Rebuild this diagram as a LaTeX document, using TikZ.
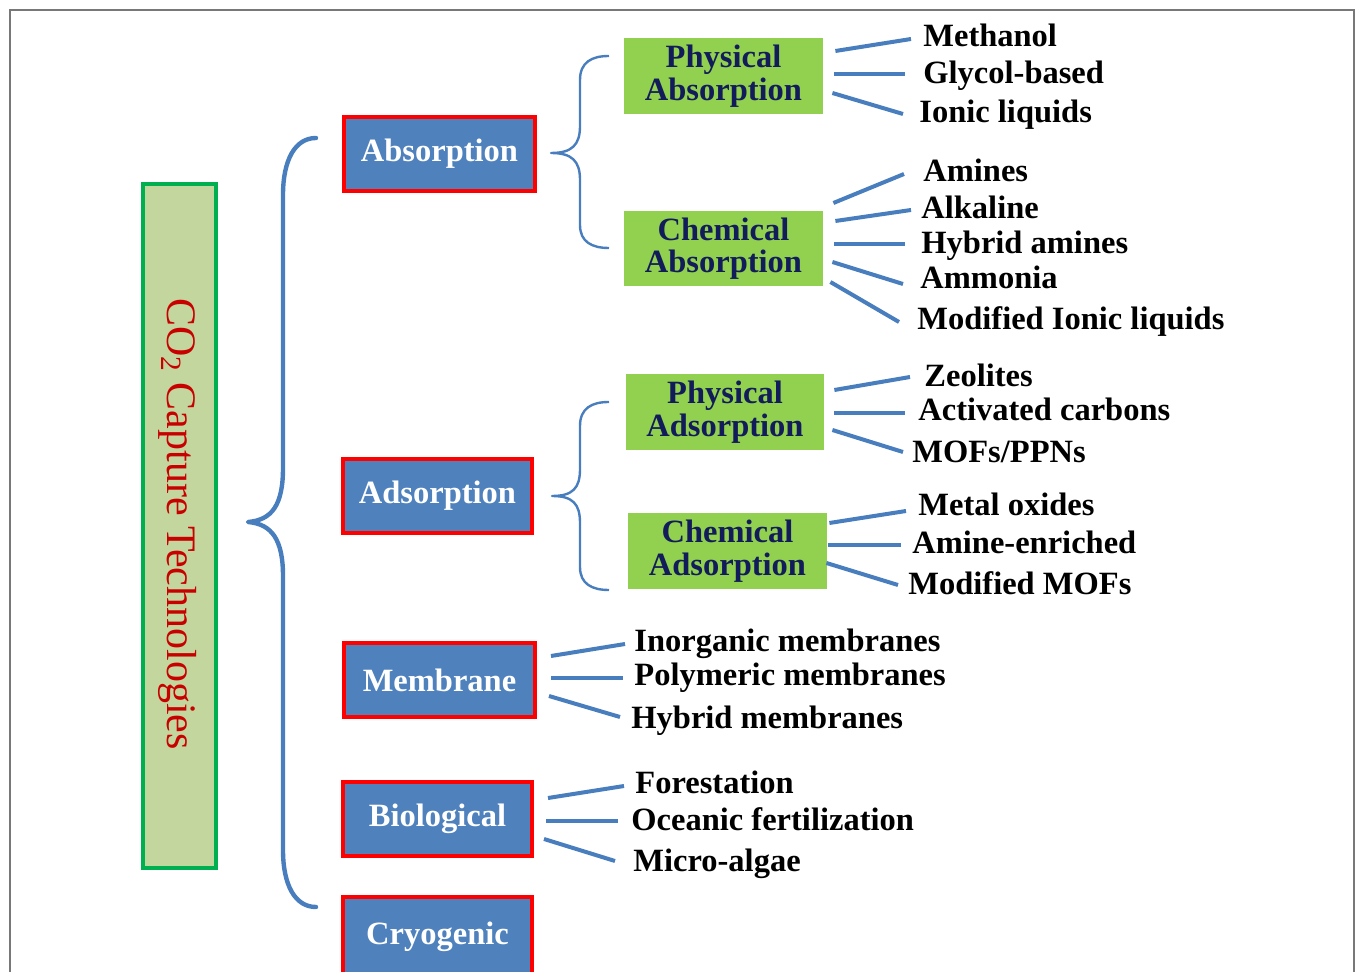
\documentclass[tikz,border=0pt]{standalone}
\usepackage{fontspec}
\setmainfont{Liberation Serif}
\definecolor{boxblue}{RGB}{79,129,189}
\definecolor{lineblue}{RGB}{72,126,189}
\definecolor{boxred}{RGB}{255,0,0}
\definecolor{subgreen}{RGB}{146,208,80}
\definecolor{titlefill}{RGB}{195,214,158}
\definecolor{titleborder}{RGB}{0,176,80}
\definecolor{navy}{RGB}{18,28,90}
\definecolor{titlered}{RGB}{200,0,0}
\definecolor{framegray}{RGB}{120,120,120}
\tikzset{
  catbox/.style={draw=boxred, line width=2pt, fill=boxblue, text=white,
    font=\fontsize{16.25}{16.25}\selectfont\bfseries, inner sep=0pt,
    minimum width=95pt, minimum height=37pt},
  subbox/.style={fill=subgreen, text=navy, align=center,
    font=\fontsize{16.25}{16.25}\selectfont\bfseries, inner sep=0pt,
    minimum width=99.5pt, minimum height=38pt},
  leaftext/.style={anchor=base west, inner sep=0pt,
    font=\fontsize{16.25}{16.25}\selectfont\bfseries, text=black},
  leaf/.style={draw=lineblue, line width=2pt},
  bigbrace/.style={draw=lineblue, line width=2.2pt, line cap=round, line join=round},
  smallbrace/.style={draw=lineblue, line width=1.2pt, line join=round},
}
\begin{document}
\begin{tikzpicture}[x=0.5pt, y=-0.5pt]
\useasboundingbox (0,0) rectangle (1355,972);
\begin{scope}
\clip (0,0) rectangle (1355,972);
% frame
\draw[framegray, line width=1pt] (9.5,980) -- (9.5,10) -- (1353.5,10) -- (1353.5,980);

% title
\node[draw=titleborder, line width=1.8pt, fill=titlefill, minimum width=36.5pt,
  minimum height=342pt, inner sep=0pt] (titlebox) at (179.5,526) {};
\node[rotate=-90, text=titlered, font=\fontsize{21}{21}\selectfont, inner sep=0pt]
  (title) at (178,524) {CO\textsubscript{2} Capture Technologies};

% categories
\node[catbox, minimum width=95.5pt] (abs) at (439.5,154) {Absorption};
\node[catbox, minimum width=94.5pt] (ads) at (437.5,496) {Adsorption};
\node[catbox, minimum width=95.5pt] (mem) at (439.5,680) {Membrane};
\node[catbox, minimum width=94.5pt] (bio) at (437.5,819) {Biological};
\node[catbox, minimum width=94.5pt, minimum height=40pt] (cryo) at (437.5,937) {Cryogenic};

% big brace
\coordinate (bigtip) at (248,522);
\draw[bigbrace] (316,138) .. controls (295,138) and (283,160) .. (283,195)
  -- (283,468) .. controls (283,505) and (272,520) .. (bigtip)
  .. controls (272,524) and (283,540) .. (283,576)
  -- (283,850) .. controls (283,885) and (295,907) .. (316,907);

% sub boxes
\node[subbox] (pabs) at (723.5,76) {Physical\\Absorption};
\node[subbox, minimum height=37.5pt] (cabs) at (723.5,248.5) {Chemical\\Absorption};
\node[subbox, minimum width=99pt] (pads) at (725,412) {Physical\\Adsorption};
\node[subbox] (cads) at (727.5,551) {Chemical\\Adsorption};

% small braces
\coordinate (abstip) at (551,153);
\draw[smallbrace] (609,56) .. controls (592,56) and (580,62) .. (580,80)
  -- (580,126) .. controls (580,145) and (572,153) .. (abstip)
  .. controls (572,153) and (580,161) .. (580,180)
  -- (580,225) .. controls (580,242) and (592,248) .. (609,248);
\coordinate (adstip) at (552,496);
\draw[smallbrace] (609,402) .. controls (592,402) and (580,408) .. (580,426)
  -- (580,469) .. controls (580,488) and (573,496) .. (adstip)
  .. controls (573,496) and (580,504) .. (580,523)
  -- (580,567) .. controls (580,584) and (592,590) .. (609,590);

% leaf texts
\node[leaftext] (meth)  at (923,47)  {Methanol};
\node[leaftext] (glyc)  at (923,84)  {Glycol-based};
\node[leaftext] (ionic) at (919,123) {Ionic liquids};
\node[leaftext] (amin)  at (923,182) {Amines};
\node[leaftext] (alk)   at (921,219) {Alkaline};
\node[leaftext] (hyb)   at (921,254) {Hybrid amines};
\node[leaftext] (amm)   at (920,289) {Ammonia};
\node[leaftext] (modil) at (917,330) {Modified Ionic liquids};
\node[leaftext] (zeo)   at (924,387) {Zeolites};
\node[leaftext] (act)   at (918,421) {Activated carbons};
\node[leaftext] (mofs)  at (912,463) {MOFs/PPNs};
\node[leaftext] (metal) at (918,516) {Metal oxides};
\node[leaftext] (ae)    at (912,554) {Amine-enriched};
\node[leaftext] (mmofs) at (908,595) {Modified MOFs};
\node[leaftext] (inorg) at (634,652) {Inorganic membranes};
\node[leaftext] (poly)  at (634,686) {Polymeric membranes};
\node[leaftext] (hybm)  at (631,728) {Hybrid membranes};
\node[leaftext] (fore)  at (635,793) {Forestation};
\node[leaftext] (ocean) at (631,830) {Oceanic fertilization};
\node[leaftext] (micro) at (633,871) {Micro-algae};

% leaf lines
\draw[leaf] ([shift={(12,-25)}]pabs.east) -- ([shift={(-12,-8)}]meth.base west);
\draw[leaf] ([shift={(11,-2)}]pabs.east) -- ([shift={(-18,-10)}]glyc.base west);
\draw[leaf] ([shift={(9,17)}]pabs.east) -- ([shift={(-16,-9)}]ionic.base west);

\draw[leaf] ([shift={(10,-45.5)}]cabs.east) -- ([shift={(-19,-8)}]amin.base west);
\draw[leaf] ([shift={(12,-27.5)}]cabs.east) -- ([shift={(-10,-9)}]alk.base west);
\draw[leaf] ([shift={(11,-4.5)}]cabs.east) -- ([shift={(-16,-10)}]hyb.base west);
\draw[leaf] ([shift={(9,13.5)}]cabs.east) -- ([shift={(-17,-5)}]amm.base west);
\draw[leaf] ([shift={(7,33.5)}]cabs.east) -- ([shift={(-18,-8)}]modil.base west);

\draw[leaf] ([shift={(10,-22)}]pads.east) -- ([shift={(-14,-10)}]zeo.base west);
\draw[leaf] ([shift={(10,1)}]pads.east) -- ([shift={(-13,-8)}]act.base west);
\draw[leaf] ([shift={(8,18)}]pads.east) -- ([shift={(-9,-11)}]mofs.base west);

\draw[leaf] ([shift={(2,-28)}]cads.east) -- ([shift={(-12,-5)}]metal.base west);
\draw[leaf] ([shift={(1,-6)}]cads.east) -- ([shift={(-11,-9)}]ae.base west);
\draw[leaf] ([shift={(-1,12)}]cads.east) -- ([shift={(-10,-10)}]mmofs.base west);

\draw[leaf] ([shift={(14,-24)}]mem.east) -- ([shift={(-9,-8)}]inorg.base west);
\draw[leaf] ([shift={(14,-2)}]mem.east) -- ([shift={(-11,-8)}]poly.base west);
\draw[leaf] ([shift={(12,16)}]mem.east) -- ([shift={(-11,-11)}]hybm.base west);

\draw[leaf] ([shift={(14,-21)}]bio.east) -- ([shift={(-11,-7)}]fore.base west);
\draw[leaf] ([shift={(12,2)}]bio.east) -- ([shift={(-13,-9)}]ocean.base west);
\draw[leaf] ([shift={(10,20)}]bio.east) -- ([shift={(-18,-10)}]micro.base west);
\end{scope}
\end{tikzpicture}
\end{document}
